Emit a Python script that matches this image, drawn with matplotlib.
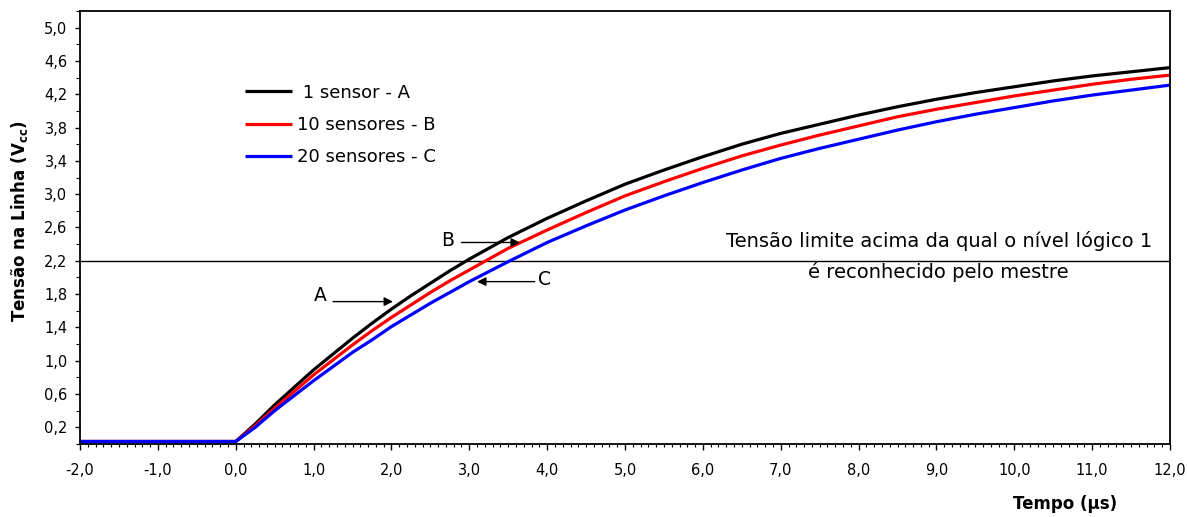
import matplotlib
matplotlib.use("Agg")
import matplotlib.pyplot as plt
from matplotlib.ticker import MultipleLocator, FuncFormatter

plt.rcParams['font.family'] = ['DejaVu Sans']
plt.rcParams['mathtext.default'] = 'regular'

# Time (µs)
tempo = [-2.0, -1.0, 0.0, 0.25, 0.5, 0.75, 1.0, 1.25, 1.5, 1.75, 2.0, 2.25, 2.5,
         2.75, 3.0, 3.5, 4.0, 4.5, 5.0, 5.5, 6.0, 6.5, 7.0, 7.5, 8.0, 8.5, 9.0,
         9.5, 10.0, 10.5, 11.0, 11.5, 12.0]

# Line voltage (V)
sensor_a = [0.03, 0.03, 0.03, 0.24, 0.47, 0.68, 0.89, 1.08, 1.27, 1.45, 1.62, 1.78,
            1.93, 2.08, 2.22, 2.48, 2.71, 2.92, 3.12, 3.29, 3.45, 3.60, 3.73, 3.84,
            3.95, 4.05, 4.14, 4.22, 4.29, 4.36, 4.42, 4.47, 4.52]
sensor_b = [0.03, 0.03, 0.03, 0.22, 0.43, 0.63, 0.83, 1.01, 1.19, 1.36, 1.52, 1.67,
            1.82, 1.96, 2.09, 2.35, 2.57, 2.78, 2.98, 3.15, 3.31, 3.46, 3.59, 3.71,
            3.82, 3.93, 4.02, 4.10, 4.18, 4.25, 4.32, 4.38, 4.43]
sensor_c = [0.03, 0.03, 0.03, 0.20, 0.40, 0.58, 0.76, 0.93, 1.10, 1.25, 1.41, 1.55,
            1.69, 1.82, 1.95, 2.19, 2.42, 2.62, 2.81, 2.98, 3.14, 3.29, 3.43, 3.55,
            3.66, 3.77, 3.87, 3.96, 4.04, 4.12, 4.19, 4.25, 4.31]

labels = [" 1 sensor - A", "10 sensores - B", "20 sensores - C"]
colors = ["#000000", "#ff0000", "#0000ff"]
limite = 2.2

fig = plt.figure(figsize=(11.87, 5.17), dpi=100)
ax = fig.add_axes([80 / 1187, 1 - 444 / 517, 1090 / 1187, 433 / 517])

for vals, lab, col in zip([sensor_a, sensor_b, sensor_c], labels, colors):
    ax.plot(tempo, vals, color=col, lw=2.3, label=lab, solid_capstyle='butt')

ax.axhline(limite, color='black', lw=1.0, zorder=1)

ax.set_xlim(-2.0, 12.0)
ax.set_ylim(0.0, 5.2)

comma = FuncFormatter(lambda v, p: f"{v:.1f}".replace('.', ','))
ax.xaxis.set_major_locator(MultipleLocator(1.0))
ax.xaxis.set_minor_locator(MultipleLocator(0.1))
ax.xaxis.set_major_formatter(comma)
ax.set_yticks([0.2 + 0.4 * i for i in range(13)])
ax.yaxis.set_minor_locator(MultipleLocator(0.2))
ax.yaxis.set_major_formatter(comma)

ax.tick_params(axis='x', which='major', direction='out', length=4.5, width=1.0,
               pad=9, labelsize=10.5)
ax.tick_params(axis='x', which='minor', direction='out', length=2.5, width=0.8)
ax.tick_params(axis='y', which='major', direction='out', length=3.5, width=1.0,
               pad=5.5, labelsize=10.5)
ax.tick_params(axis='y', which='minor', direction='out', length=3.0, width=0.8)

for sp in ax.spines.values():
    sp.set_linewidth(1.3)

ax.set_ylabel("Tensão na Linha (V$_{cc}$)", fontsize=12, fontweight='bold')
ax.yaxis.set_label_coords(-0.046, 0.515)
ax.set_xlabel("Tempo (µs)", fontsize=12, fontweight='bold')
ax.xaxis.set_label_coords(0.904, -0.118)
ax.xaxis.label.set_va('top')

ax.legend(loc='upper left', bbox_to_anchor=(0.151, 0.832), frameon=False,
          fontsize=13, handlelength=2.6, handletextpad=0.3, labelspacing=0.78,
          borderpad=0, borderaxespad=0)

ax.text(9.03, 2.44, "Tensão limite acima da qual o nível lógico 1", fontsize=14,
        ha='center', va='center')
ax.text(9.03, 2.06, "é reconhecido pelo mestre", fontsize=14,
        ha='center', va='center')

arrow = dict(arrowstyle='-|>', color='black', lw=1.0, mutation_scale=13,
             shrinkA=0, shrinkB=0)
ax.text(1.08, 1.78, "A", fontsize=13.5, ha='center', va='center')
ax.annotate("", xy=(2.02, 1.71), xytext=(1.25, 1.71), arrowprops=arrow)
ax.text(2.72, 2.44, "B", fontsize=13.5, ha='center', va='center')
ax.annotate("", xy=(3.65, 2.42), xytext=(2.90, 2.42), arrowprops=arrow)
ax.text(3.97, 1.97, "C", fontsize=13.5, ha='center', va='center')
ax.annotate("", xy=(3.10, 1.95), xytext=(3.84, 1.95), arrowprops=arrow)

fig.savefig("out.png", dpi=100)
